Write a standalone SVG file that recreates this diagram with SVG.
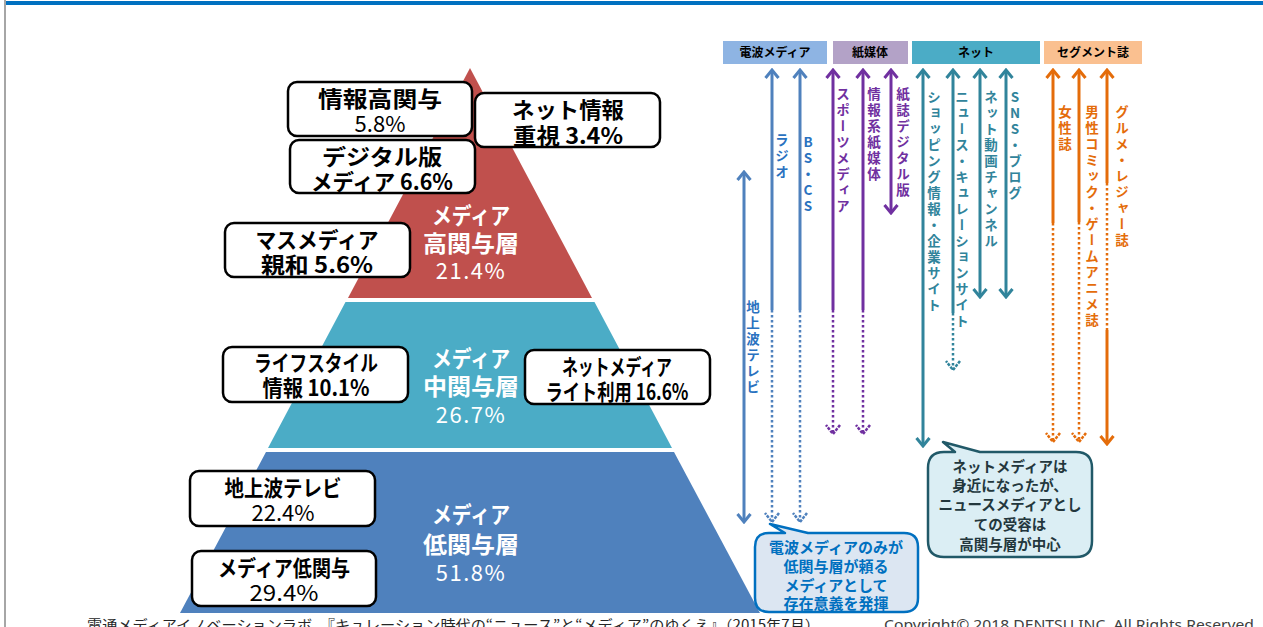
<svg xmlns="http://www.w3.org/2000/svg" width="1263" height="627" viewBox="0 0 1263 627">
<style>
  .jp { font-family: "Noto Sans CJK JP", "Noto Sans", sans-serif; }
  .box { fill: #ffffff; stroke: #000000; stroke-width: 2.5; }
  .bt { font-family: "Noto Sans CJK JP", sans-serif; font-size: 22px; font-weight: bold; fill: #000; text-anchor: middle; }
  .bn { font-family: "Noto Sans CJK JP", sans-serif; font-size: 22px; font-weight: normal; fill: #000; text-anchor: middle; }
  .pt { font-family: "Noto Sans CJK JP", sans-serif; font-size: 23px; font-weight: bold; fill: #ffffff; text-anchor: middle; }
  .pn { font-family: "Noto Sans CJK JP", sans-serif; font-size: 22px; font-weight: normal; fill: #ffffff; text-anchor: middle; letter-spacing: 1.5px; }
  .ht { font-family: "Noto Sans CJK JP", sans-serif; font-size: 12px; font-weight: bold; fill: #000; text-anchor: middle; }
  .vl { font-family: "Noto Sans CJK JP", sans-serif; font-size: 13.5px; font-weight: bold; writing-mode: vertical-rl; text-orientation: upright; letter-spacing: 2.5px; }
  .sB { stroke: #4F81BD; } .sP { stroke: #7030A0; } .sT { stroke: #31849B; } .sO { stroke: #E46C0A; }
  .sol { stroke-width: 3; fill: none; }
  .dot { stroke-width: 2.5; fill: none; stroke-dasharray: 2.5 2.5; }
  .cB { fill: #2A72C0; } .cP { fill: #7030A0; } .cT { fill: #31849B; } .cO { fill: #E46C0A; }
  .c1 { font-family: "Noto Sans CJK JP", sans-serif; font-size: 15px; font-weight: bold; fill: #0070C0; text-anchor: middle; }
  .c2 { font-family: "Noto Sans CJK JP", sans-serif; font-size: 14.5px; font-weight: bold; fill: #23373D; text-anchor: middle; }
</style>
<defs>
  <marker id="hB" markerUnits="userSpaceOnUse" viewBox="-12 -9 14 18" markerWidth="14" markerHeight="18" refX="0" refY="0" orient="auto-start-reverse"><path d="M-8,-6.5 L0,0 L-8,6.5" fill="none" stroke="#4F81BD" stroke-width="3"/></marker>
  <marker id="dB" markerUnits="userSpaceOnUse" viewBox="-12 -9 14 18" markerWidth="14" markerHeight="18" refX="0" refY="0" orient="auto-start-reverse"><path d="M-9,-7 L0,0 L-9,7" fill="none" stroke="#4F81BD" stroke-width="2.5" stroke-dasharray="3 1.2"/></marker>
  <marker id="hP" markerUnits="userSpaceOnUse" viewBox="-12 -9 14 18" markerWidth="14" markerHeight="18" refX="0" refY="0" orient="auto-start-reverse"><path d="M-8,-6.5 L0,0 L-8,6.5" fill="none" stroke="#7030A0" stroke-width="3"/></marker>
  <marker id="dP" markerUnits="userSpaceOnUse" viewBox="-12 -9 14 18" markerWidth="14" markerHeight="18" refX="0" refY="0" orient="auto-start-reverse"><path d="M-9,-7 L0,0 L-9,7" fill="none" stroke="#7030A0" stroke-width="2.5" stroke-dasharray="3 1.2"/></marker>
  <marker id="hT" markerUnits="userSpaceOnUse" viewBox="-12 -9 14 18" markerWidth="14" markerHeight="18" refX="0" refY="0" orient="auto-start-reverse"><path d="M-8,-6.5 L0,0 L-8,6.5" fill="none" stroke="#31849B" stroke-width="3"/></marker>
  <marker id="dT" markerUnits="userSpaceOnUse" viewBox="-12 -9 14 18" markerWidth="14" markerHeight="18" refX="0" refY="0" orient="auto-start-reverse"><path d="M-9,-7 L0,0 L-9,7" fill="none" stroke="#31849B" stroke-width="2.5" stroke-dasharray="3 1.2"/></marker>
  <marker id="hO" markerUnits="userSpaceOnUse" viewBox="-12 -9 14 18" markerWidth="14" markerHeight="18" refX="0" refY="0" orient="auto-start-reverse"><path d="M-8,-6.5 L0,0 L-8,6.5" fill="none" stroke="#E46C0A" stroke-width="3"/></marker>
  <marker id="dO" markerUnits="userSpaceOnUse" viewBox="-12 -9 14 18" markerWidth="14" markerHeight="18" refX="0" refY="0" orient="auto-start-reverse"><path d="M-9,-7 L0,0 L-9,7" fill="none" stroke="#E46C0A" stroke-width="2.5" stroke-dasharray="3 1.2"/></marker>
</defs>

<rect x="0" y="0" width="1263" height="627" fill="#ffffff"/>
<rect x="4" y="0" width="2" height="627" fill="#A6A6A6"/>
<rect x="6" y="1" width="1257" height="4" fill="#0070C0"/>

<!-- pyramid -->
<g id="layer-high">
  <polygon points="470,68 592,298 348,298" fill="#C0504D"/>
  <text class="pt" x="471" y="224" textLength="78" lengthAdjust="spacingAndGlyphs">メディア</text>
  <text class="pt" x="471" y="252" textLength="96" lengthAdjust="spacingAndGlyphs">高関与層</text>
  <text class="pn" x="471" y="279">21.4%</text>
</g>
<g id="layer-mid">
  <polygon points="345.5,302 594.5,302 672,448 268,448" fill="#4BACC6"/>
  <text class="pt" x="471" y="367" textLength="78" lengthAdjust="spacingAndGlyphs">メディア</text>
  <text class="pt" x="471" y="395" textLength="96" lengthAdjust="spacingAndGlyphs">中関与層</text>
  <text class="pn" x="471" y="423">26.7%</text>
</g>
<g id="layer-low">
  <polygon points="266,452 674,452 760,613 180,613" fill="#4F81BD"/>
  <text class="pt" x="471" y="523" textLength="78" lengthAdjust="spacingAndGlyphs">メディア</text>
  <text class="pt" x="471" y="553" textLength="96" lengthAdjust="spacingAndGlyphs">低関与層</text>
  <text class="pn" x="471" y="581">51.8%</text>
</g>

<!-- segment boxes -->
<g id="box-info-high">
  <rect class="box" x="288" y="82" width="184" height="54" rx="9"/>
  <text class="bt" x="380" y="107" textLength="124" lengthAdjust="spacingAndGlyphs">情報高関与</text>
  <text class="bn" x="380" y="132">5.8%</text>
</g>
<g id="box-net-info">
  <rect class="box" x="475" y="93" width="185" height="54" rx="9"/>
  <text class="bt" x="568" y="118" textLength="112" lengthAdjust="spacingAndGlyphs">ネット情報</text>
  <text class="bt" x="568" y="144" textLength="110" lengthAdjust="spacingAndGlyphs">重視 3.4%</text>
</g>
<g id="box-digital">
  <rect class="box" x="290" y="140" width="185" height="53" rx="9"/>
  <text class="bt" x="382" y="165" textLength="120" lengthAdjust="spacingAndGlyphs">デジタル版</text>
  <text class="bt" x="382" y="190" textLength="142" lengthAdjust="spacingAndGlyphs">メディア 6.6%</text>
</g>
<g id="box-mass">
  <rect class="box" x="225" y="223" width="185" height="54" rx="9"/>
  <text class="bt" x="317" y="248" textLength="123" lengthAdjust="spacingAndGlyphs">マスメディア</text>
  <text class="bt" x="317" y="273" textLength="112" lengthAdjust="spacingAndGlyphs">親和 5.6%</text>
</g>
<g id="box-lifestyle">
  <rect class="box" x="223" y="347" width="185" height="55" rx="9"/>
  <text class="bt" x="316" y="371" textLength="124" lengthAdjust="spacingAndGlyphs">ライフスタイル</text>
  <text class="bt" x="316" y="396" textLength="107" lengthAdjust="spacingAndGlyphs">情報 10.1%</text>
</g>
<g id="box-net-light">
  <rect class="box" x="525" y="350" width="185" height="54" rx="9"/>
  <text class="bt" x="617" y="375" textLength="110" lengthAdjust="spacingAndGlyphs">ネットメディア</text>
  <text class="bt" x="617" y="400" textLength="143" lengthAdjust="spacingAndGlyphs">ライト利用 16.6%</text>
</g>
<g id="box-tv">
  <rect class="box" x="190" y="471" width="185" height="55" rx="9"/>
  <text class="bt" x="283" y="496" textLength="117" lengthAdjust="spacingAndGlyphs">地上波テレビ</text>
  <text class="bn" x="283" y="521">22.4%</text>
</g>
<g id="box-media-low">
  <rect class="box" x="192" y="551" width="184" height="55" rx="9"/>
  <text class="bt" x="284" y="576" textLength="132" lengthAdjust="spacingAndGlyphs">メディア低関与</text>
  <text class="bn" x="284" y="601" textLength="69" lengthAdjust="spacingAndGlyphs">29.4%</text>
</g>

<!-- category headers -->
<g id="hdr-radio">
  <rect x="723" y="41" width="104" height="23" fill="#8EB4E3"/>
  <text class="ht" x="775" y="57">電波メディア</text>
</g>
<g id="hdr-paper">
  <rect x="833" y="41" width="75" height="23" fill="#B3A2C7"/>
  <text class="ht" x="870" y="57">紙媒体</text>
</g>
<g id="hdr-net">
  <rect x="912" y="41" width="128" height="23" fill="#4BACC6"/>
  <text class="ht" x="976" y="57">ネット</text>
</g>
<g id="hdr-segment">
  <rect x="1044" y="41" width="98" height="23" fill="#FAC090"/>
  <text class="ht" x="1093" y="57">セグメント誌</text>
</g>

<!-- connectors -->
<g id="connectors">
  <line class="sol sB" x1="744" y1="172" x2="744" y2="522" marker-start="url(#hB)" marker-end="url(#hB)"/>
  <line class="sol sB" x1="772" y1="70" x2="772" y2="310" marker-start="url(#hB)"/>
  <line class="dot sB" x1="772" y1="310" x2="772" y2="522" marker-end="url(#dB)"/>
  <line class="sol sB" x1="800" y1="70" x2="800" y2="310" marker-start="url(#hB)"/>
  <line class="dot sB" x1="800" y1="310" x2="800" y2="522" marker-end="url(#dB)"/>
  <line class="sol sP" x1="833" y1="70" x2="833" y2="310" marker-start="url(#hP)"/>
  <line class="dot sP" x1="833" y1="310" x2="833" y2="434" marker-end="url(#dP)"/>
  <line class="sol sP" x1="863" y1="70" x2="863" y2="310" marker-start="url(#hP)"/>
  <line class="dot sP" x1="863" y1="310" x2="863" y2="434" marker-end="url(#dP)"/>
  <line class="sol sP" x1="891" y1="70" x2="891" y2="213" marker-start="url(#hP)" marker-end="url(#hP)"/>
  <line class="sol sT" x1="923" y1="70" x2="923" y2="446" marker-start="url(#hT)" marker-end="url(#hT)"/>
  <line class="sol sT" x1="953" y1="70" x2="953" y2="313" marker-start="url(#hT)"/>
  <line class="dot sT" x1="953" y1="313" x2="953" y2="370" marker-end="url(#dT)"/>
  <line class="sol sT" x1="980" y1="70" x2="980" y2="297" marker-start="url(#hT)" marker-end="url(#hT)"/>
  <line class="sol sT" x1="1006" y1="70" x2="1006" y2="297" marker-start="url(#hT)" marker-end="url(#hT)"/>
  <line class="sol sO" x1="1053" y1="70" x2="1053" y2="223" marker-start="url(#hO)"/>
  <line class="dot sO" x1="1053" y1="223" x2="1053" y2="442" marker-end="url(#dO)"/>
  <line class="sol sO" x1="1079" y1="70" x2="1079" y2="222" marker-start="url(#hO)"/>
  <line class="dot sO" x1="1079" y1="222" x2="1079" y2="442" marker-end="url(#dO)"/>
  <line class="sol sO" x1="1107" y1="70" x2="1107" y2="183" marker-start="url(#hO)"/>
  <line class="dot sO" x1="1107" y1="183" x2="1107" y2="330"/>
  <line class="sol sO" x1="1107" y1="330" x2="1107" y2="444" marker-end="url(#hO)"/>
</g>

<!-- vertical labels -->
<g id="labels">
  <text class="vl cB" x="753" y="300">地上波テレビ</text>
  <text class="vl cB" x="782" y="133">ラジオ</text>
  <text class="vl cB" x="808" y="135">BS・CS</text>
  <text class="vl cP" x="843" y="87">スポーツメディア</text>
  <text class="vl cP" x="874" y="87">情報系紙媒体</text>
  <text class="vl cP" x="903" y="87">紙誌デジタル版</text>
  <text class="vl cT" x="934" y="90">ショッピング情報・企業サイト</text>
  <text class="vl cT" x="962" y="90">ニュース・キュレーションサイト</text>
  <text class="vl cT" x="991" y="90">ネット動画チャンネル</text>
  <text class="vl cT" x="1015" y="90">SNS・ブログ</text>
  <text class="vl cO" x="1065" y="105">女性誌</text>
  <text class="vl cO" x="1092" y="105">男性コミック・ゲームアニメ誌</text>
  <text class="vl cO" x="1122" y="105">グルメ・レジャー誌</text>
</g>

<!-- callouts -->
<g id="callout-radio">
  <path d="M769,533 L785,533 L770,524 L808,533 L904,533 Q918,533 918,547 L918,598 Q918,612 904,612 L769,612 Q755,612 755,598 L755,547 Q755,533 769,533 Z" fill="#DCE6F2" stroke="#0070C0" stroke-width="2.5" stroke-linejoin="round"/>
  <text class="c1" x="836" y="553">電波メディアのみが</text>
  <text class="c1" x="836" y="572">低関与層が頼る</text>
  <text class="c1" x="836" y="591">メディアとして</text>
  <text class="c1" x="836" y="609">存在意義を発揮</text>
</g>
<g id="callout-net">
  <path d="M944,452 L955,452 L943,442 L980,452 L1076,452 Q1092,452 1092,468 L1092,541 Q1092,557 1076,557 L944,557 Q928,557 928,541 L928,468 Q928,452 944,452 Z" fill="#DBEEF4" stroke="#215968" stroke-width="2.5" stroke-linejoin="round"/>
  <text class="c2" x="1010" y="472">ネットメディアは</text>
  <text class="c2" x="1010" y="491">身近になったが、</text>
  <text class="c2" x="1010" y="510">ニュースメディアとし</text>
  <text class="c2" x="1010" y="530">ての受容は</text>
  <text class="c2" x="1010" y="550">高関与層が中心</text>
</g>

<!-- footer -->
<text class="jp" x="87" y="630" font-size="14" fill="#262626" textLength="733" lengthAdjust="spacingAndGlyphs">電通メディアイノベーションラボ　『キュレーション時代の“ニュース”と“メディア”のゆくえ』（2015年7月）</text>
<text x="884" y="630" font-family="Noto Sans, sans-serif" font-size="14" fill="#404040" textLength="370" lengthAdjust="spacingAndGlyphs">Copyright© 2018 DENTSU INC. All Rights Reserved</text>
</svg>
